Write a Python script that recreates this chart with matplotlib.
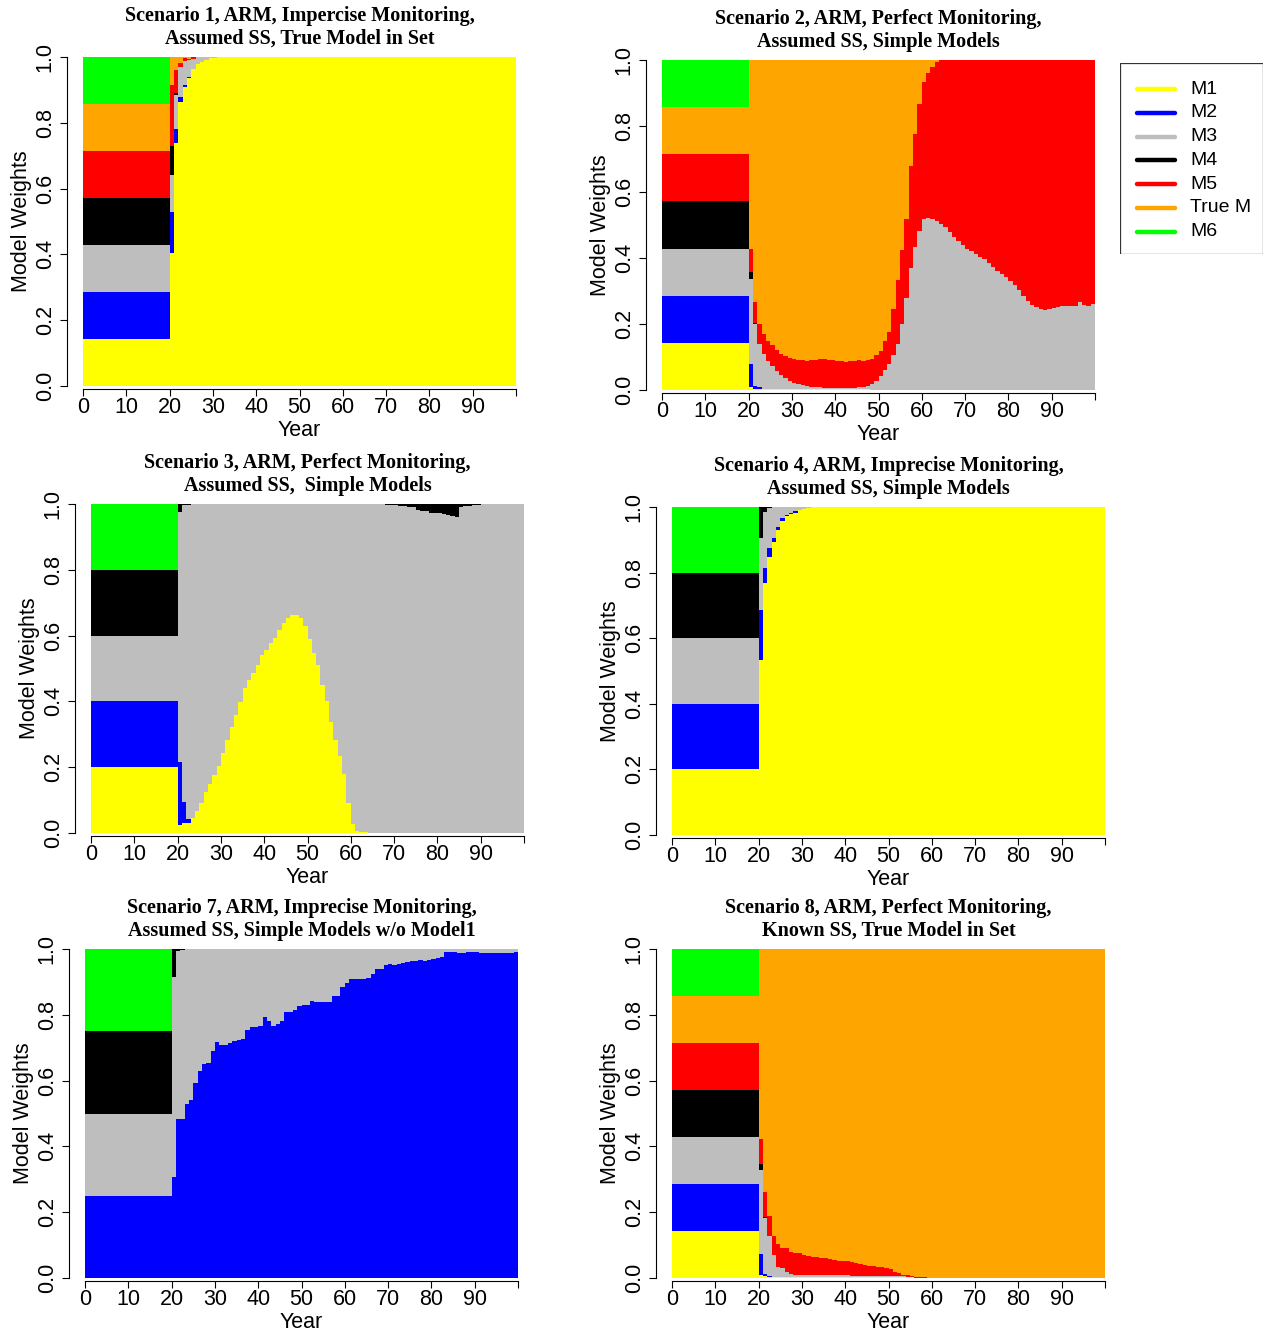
import matplotlib.pyplot as plt
import numpy as np
from matplotlib.patches import Rectangle

plt.rcParams['font.family'] = ['Liberation Sans', 'DejaVu Sans']

W, H = 1270, 1336
edges = np.arange(101)  # one bar per year, 0..99

model_labels = ['M1', 'M2', 'M3', 'M4', 'M5', 'True M', 'M6']
model_colors = ['#FFFF00', '#0000FF', '#BEBEBE', '#000000', '#FF0000', '#FFA500', '#00FF00']

# ---- scenario 1: imprecise monitoring, true model in set
s1_m1 = [1 / 7] * 20 + [0.403, 0.74, 0.862, 0.908, 0.935, 0.965, 0.978, 0.985, 0.992, 0.996, 0.998] + [1.0] * 69
s1_m2 = [1 / 7] * 20 + [0.125, 0.04, 0.017, 0.006, 0.005] + [0.0] * 75
s1_m3 = [1 / 7] * 20 + [0.113, 0.105, 0.092, 0.075, 0.05, 0.03, 0.022, 0.015, 0.008, 0.004, 0.002] + [0.0] * 69
s1_m4 = [1 / 7] * 20 + [0.089, 0.005] + [0.0] * 78
s1_m5 = [1 / 7] * 20 + [0.185, 0.07, 0.01, 0.007, 0.005, 0.005] + [0.0] * 74
s1_tm = [1 / 7] * 20 + [0.085, 0.04, 0.019, 0.004, 0.005] + [0.0] * 75
s1_m6 = [1 / 7] * 20 + [0.0] * 80

# ---- scenario 2: perfect monitoring, simple models
s2_m1 = [1 / 7] * 20 + [0.01, 0.003] + [0.004] * 26 + [0.0] * 52
s2_m2 = [1 / 7] * 20 + [0.07, 0.01, 0.004] + [0.0] * 77
s2_m3 = [1 / 7] * 20 + [
    0.257, 0.187, 0.132, 0.106, 0.084, 0.068, 0.055, 0.042, 0.032, 0.024,
    0.018, 0.013, 0.01, 0.008, 0.006, 0.005, 0.004, 0.003, 0.002, 0.002,
    0.001, 0.001, 0.001, 0.002, 0.003, 0.004, 0.005, 0.008, 0.018, 0.028,
    0.043, 0.06, 0.08, 0.105, 0.14, 0.2, 0.28, 0.37, 0.433, 0.482,
    0.518, 0.522, 0.519, 0.512, 0.504, 0.494, 0.479, 0.464, 0.451, 0.44,
    0.428, 0.42, 0.412, 0.403, 0.396, 0.386, 0.372, 0.362, 0.352, 0.342,
    0.33, 0.317, 0.302, 0.286, 0.271, 0.258, 0.251, 0.246, 0.243, 0.246,
    0.248, 0.251, 0.254, 0.255, 0.256, 0.256, 0.268, 0.258, 0.256, 0.261]
s2_m4 = [1 / 7] * 20 + [0.02, 0.004] + [0.0] * 78
s2_m5 = [1 / 7] * 20 + [
    0.071, 0.064, 0.06, 0.06, 0.062, 0.063, 0.061, 0.064, 0.068, 0.07,
    0.072, 0.075, 0.076, 0.076, 0.08, 0.083, 0.086, 0.087, 0.086, 0.084,
    0.083, 0.082, 0.081, 0.081, 0.081, 0.082, 0.079, 0.078, 0.077, 0.077,
    0.076, 0.09, 0.095, 0.141, 0.192, 0.225, 0.239, 0.31, 0.344, 0.386,
    0.416, 0.438, 0.461, 0.483, 0.496, 0.506, 0.521, 0.536, 0.549, 0.56,
    0.572, 0.58, 0.588, 0.597, 0.604, 0.614, 0.628, 0.638, 0.648, 0.658,
    0.67, 0.683, 0.698, 0.714, 0.729, 0.742, 0.749, 0.754, 0.757, 0.754,
    0.752, 0.749, 0.746, 0.745, 0.744, 0.744, 0.732, 0.742, 0.744, 0.739]
s2_tm = [1 / 7] * 20 + [
    0.572, 0.732, 0.8, 0.83, 0.85, 0.865, 0.88, 0.89, 0.896, 0.902,
    0.906, 0.908, 0.91, 0.912, 0.91, 0.908, 0.906, 0.906, 0.908, 0.91,
    0.912, 0.913, 0.914, 0.913, 0.912, 0.91, 0.912, 0.91, 0.905, 0.895,
    0.881, 0.85, 0.825, 0.754, 0.668, 0.575, 0.481, 0.32, 0.223, 0.132,
    0.066, 0.04, 0.02, 0.005] + [0.0] * 36
s2_m6 = [1 / 7] * 20 + [0.0] * 80

# ---- scenario 3: perfect monitoring, simple models (no M5 / true model)
s3_m1 = [0.2] * 20 + [
    0.024, 0.03, 0.03, 0.045, 0.068, 0.09, 0.126, 0.149, 0.176, 0.204,
    0.242, 0.283, 0.323, 0.359, 0.399, 0.44, 0.465, 0.487, 0.511, 0.541,
    0.556, 0.579, 0.592, 0.617, 0.637, 0.652, 0.662, 0.662, 0.652, 0.629,
    0.589, 0.548, 0.511, 0.45, 0.401, 0.338, 0.283, 0.234, 0.179, 0.09,
    0.027, 0.006, 0.004, 0.002] + [0.0] * 36
s3_m2 = [0.2] * 20 + [0.193, 0.065, 0.012, 0.002] + [0.0] * 76
s3_m3 = [0.2] * 20 + [
    0.76, 0.901, 0.955, 0.953, 0.932, 0.91, 0.874, 0.851, 0.824, 0.796,
    0.758, 0.717, 0.677, 0.641, 0.601, 0.56, 0.535, 0.513, 0.489, 0.459,
    0.444, 0.421, 0.408, 0.383, 0.363, 0.348, 0.338, 0.338, 0.348, 0.371,
    0.411, 0.452, 0.489, 0.55, 0.599, 0.662, 0.717, 0.766, 0.821, 0.91,
    0.973, 0.994, 0.996, 0.998, 1.0, 1.0, 1.0, 1.0, 0.998, 0.997,
    0.996, 0.995, 0.994, 0.992, 0.99, 0.982, 0.98, 0.979, 0.974, 0.973,
    0.972, 0.969, 0.966, 0.963, 0.961, 0.992, 0.993, 0.994, 0.996, 0.998] + [1.0] * 10
s3_m4 = [0.2] * 20 + [0.023, 0.004, 0.003] + [0.0] * 45 + [
    0.002, 0.003, 0.004, 0.005, 0.006, 0.008, 0.01, 0.018, 0.02, 0.021, 0.026,
    0.027, 0.028, 0.031, 0.034, 0.037, 0.039, 0.008, 0.007, 0.006, 0.004, 0.002] + [0.0] * 10
s3_m6 = [0.2] * 20 + [0.0] * 80

# ---- scenario 4: imprecise monitoring, simple models
s4_m1 = [0.2] * 20 + [0.534, 0.767, 0.847, 0.894, 0.93, 0.958, 0.972, 0.978, 0.983, 0.99, 0.995, 0.997] + [1.0] * 68
s4_m2 = [0.2] * 20 + [0.152, 0.046, 0.027, 0.013, 0.01, 0.007, 0.005, 0.005, 0.005] + [0.0] * 71
s4_m3 = [0.2] * 20 + [0.218, 0.172, 0.123, 0.093, 0.06, 0.035, 0.023, 0.017, 0.012, 0.01, 0.005, 0.003] + [0.0] * 68
s4_m4 = [0.2] * 20 + [0.096, 0.015, 0.003] + [0.0] * 77
s4_m6 = [0.2] * 20 + [0.0] * 80

# ---- scenario 7: imprecise monitoring, simple models without M1
s7_m2 = [0.25] * 20 + [
    0.308, 0.482, 0.482, 0.528, 0.54, 0.593, 0.629, 0.649, 0.652, 0.69,
    0.718, 0.708, 0.708, 0.715, 0.72, 0.723, 0.727, 0.754, 0.764, 0.764,
    0.767, 0.792, 0.78, 0.767, 0.771, 0.78, 0.81, 0.81, 0.815, 0.826,
    0.83, 0.83, 0.843, 0.838, 0.838, 0.838, 0.838, 0.857, 0.857, 0.885,
    0.897, 0.91, 0.91, 0.91, 0.91, 0.913, 0.925, 0.938, 0.94, 0.951,
    0.953, 0.95, 0.955, 0.958, 0.96, 0.963, 0.963, 0.966, 0.963, 0.966,
    0.97, 0.972, 0.975, 0.99, 0.99, 0.99, 0.988, 0.987, 0.99, 0.99,
    0.99, 0.988, 0.988, 0.987, 0.987, 0.987, 0.987, 0.987, 0.987, 0.99]
s7_m3 = [0.25] * 20 + [
    0.608, 0.513, 0.515, 0.472, 0.46, 0.407, 0.371, 0.351, 0.348, 0.31,
    0.282, 0.292, 0.292, 0.285, 0.28, 0.277, 0.273, 0.246, 0.236, 0.236,
    0.233, 0.208, 0.22, 0.233, 0.229, 0.22, 0.19, 0.19, 0.185, 0.174,
    0.17, 0.17, 0.157, 0.162, 0.162, 0.162, 0.162, 0.143, 0.143, 0.115,
    0.103, 0.09, 0.09, 0.09, 0.09, 0.087, 0.075, 0.062, 0.06, 0.049,
    0.047, 0.05, 0.045, 0.042, 0.04, 0.037, 0.037, 0.034, 0.037, 0.034,
    0.03, 0.028, 0.025, 0.01, 0.01, 0.01, 0.012, 0.013, 0.01, 0.01,
    0.01, 0.012, 0.012, 0.013, 0.013, 0.013, 0.013, 0.013, 0.013, 0.01]
s7_m4 = [0.25] * 20 + [0.084, 0.005, 0.003] + [0.0] * 77
s7_m6 = [0.25] * 20 + [0.0] * 80

# ---- scenario 8: perfect monitoring, known SS, true model in set
s8_m1 = [1 / 7] * 20 + [0.009, 0.005] + [0.004] * 34 + [0.0] * 44
s8_m2 = [1 / 7] * 20 + [0.064, 0.008, 0.003] + [0.0] * 77
s8_m3 = [1 / 7] * 20 + [0.255, 0.168, 0.121, 0.066, 0.03, 0.026, 0.015, 0.008, 0.006, 0.005, 0.005] \
    + [0.004] * 10 + [0.003] * 10 + [0.002, 0.001, 0.001, 0.0, 0.0] + [0.0] * 44
s8_m4 = [1 / 7] * 20 + [0.017, 0.003] + [0.0] * 78
s8_m5 = [1 / 7] * 20 + [
    0.076, 0.078, 0.06, 0.058, 0.069, 0.06, 0.071, 0.068, 0.067, 0.066,
    0.061, 0.059, 0.057, 0.055, 0.054, 0.052, 0.049, 0.047, 0.045, 0.045,
    0.045, 0.043, 0.038, 0.036, 0.033, 0.03, 0.029, 0.027, 0.025, 0.022,
    0.019, 0.013, 0.009, 0.005, 0.004, 0.002, 0.004, 0.003, 0.002, 0.001] + [0.0] * 40
s8_tm = [1 / 7] * 20 + [
    0.579, 0.738, 0.812, 0.872, 0.897, 0.91, 0.91, 0.92, 0.923, 0.925,
    0.93, 0.933, 0.935, 0.937, 0.938, 0.94, 0.943, 0.945, 0.947, 0.947,
    0.947, 0.95, 0.955, 0.957, 0.96, 0.963, 0.964, 0.966, 0.968, 0.971,
    0.974, 0.981, 0.986, 0.99, 0.992, 0.994, 0.996, 0.997, 0.998, 0.999] + [1.0] * 40
s8_m6 = [1 / 7] * 20 + [0.0] * 80

all7 = ['M1', 'M2', 'M3', 'M4', 'M5', 'True M', 'M6']
simple5 = ['M1', 'M2', 'M3', 'M4', 'M6']

# (data box in pixels: left, right, top, bottom), title lines, stacked series, model names
panels = [
    ((83, 516, 57, 386), ('Scenario 1, ARM, Impercise Monitoring,', 'Assumed SS, True Model in Set'),
     [s1_m1, s1_m2, s1_m3, s1_m4, s1_m5, s1_tm, s1_m6], all7),
    ((662, 1095, 60, 390), ('Scenario 2, ARM, Perfect Monitoring,', 'Assumed SS, Simple Models'),
     [s2_m1, s2_m2, s2_m3, s2_m4, s2_m5, s2_tm, s2_m6], all7),
    ((91, 524, 504, 833), ('Scenario 3, ARM, Perfect Monitoring,', 'Assumed SS,  Simple Models'),
     [s3_m1, s3_m2, s3_m3, s3_m4, s3_m6], simple5),
    ((672, 1105, 507, 835), ('Scenario 4, ARM, Imprecise Monitoring,', 'Assumed SS, Simple Models'),
     [s4_m1, s4_m2, s4_m3, s4_m4, s4_m6], simple5),
    ((85, 518, 949, 1278), ('Scenario 7, ARM, Imprecise Monitoring,', 'Assumed SS, Simple Models w/o Model1'),
     [s7_m2, s7_m3, s7_m4, s7_m6], ['M2', 'M3', 'M4', 'M6']),
    ((672, 1105, 949, 1278), ('Scenario 8, ARM, Perfect Monitoring,', 'Known SS, True Model in Set'),
     [s8_m1, s8_m2, s8_m3, s8_m4, s8_m5, s8_tm, s8_m6], all7),
]

color_of = dict(zip(model_labels, model_colors))
PT = 72 / 100  # points per pixel at dpi 100

fig = plt.figure(figsize=(W / 100, H / 100), dpi=100)

for (x0, x1, y0, y1), title, series, names in panels:
    ax = fig.add_axes([x0 / W, 1 - y1 / H, (x1 - x0) / W, (y1 - y0) / H])
    base = np.zeros(100)
    for name, vals in zip(names, series):
        vals = np.asarray(vals, dtype=float)
        ax.stairs(base + vals, edges, baseline=base, fill=True,
                  color=color_of[name], lw=0, antialiased=False)
        base = base + vals
    ax.set_xlim(0, 100)
    ax.set_ylim(0, 1)

    for side in ('top', 'right'):
        ax.spines[side].set_visible(False)
    ax.spines['left'].set_position(('outward', 16 * PT))
    ax.spines['bottom'].set_position(('outward', 3 * PT))
    for side in ('left', 'bottom'):
        ax.spines[side].set_linewidth(0.8)

    ax.set_xticks(np.arange(0, 101, 10),
                  labels=[str(v) for v in range(0, 100, 10)] + [''])
    ax.set_yticks(np.arange(0, 1.01, 0.2),
                  labels=['%.1f' % v for v in np.arange(0, 1.01, 0.2)])
    ax.tick_params(direction='out', length=7 * PT, width=0.8, labelsize=15.5)
    ax.tick_params(axis='x', pad=1)
    ax.tick_params(axis='y', labelrotation=90, pad=3)
    for t in ax.get_yticklabels():
        t.set_va('center')

    ax.set_xlabel('Year', fontsize=15.5, labelpad=1)
    ax.set_ylabel('Model Weights', fontsize=15.5, labelpad=2)

    xc = (x0 + x1) / 2 / W
    fig.text(xc, 1 - (y0 - 41) / H, title[0], ha='center', va='center',
             family='Liberation Serif', fontweight='bold', fontsize=14.5)
    fig.text(xc, 1 - (y0 - 18) / H, title[1], ha='center', va='center',
             family='Liberation Serif', fontweight='bold', fontsize=14.5)

# legend box drawn in pixel units
lx0, lx1, ly0, ly1 = 1120, 1263, 63, 254
lax = fig.add_axes([lx0 / W, 1 - ly1 / H, (lx1 - lx0) / W, (ly1 - ly0) / H])
lax.set_xlim(0, lx1 - lx0)
lax.set_ylim(ly1 - ly0, 0)
lax.axis('off')
lax.add_patch(Rectangle((0, 0), lx1 - lx0, ly1 - ly0, fill=False, ec='#333333', lw=0.9))
for i, (lab, col) in enumerate(zip(model_labels, model_colors)):
    yy = 26 + i * 23.8
    lax.plot([17, 55], [yy, yy], color=col, lw=3.2, solid_capstyle='round')
    lax.text(70, yy, lab, ha='left', va='center', fontsize=14)

fig.savefig('out.png', dpi=100)
